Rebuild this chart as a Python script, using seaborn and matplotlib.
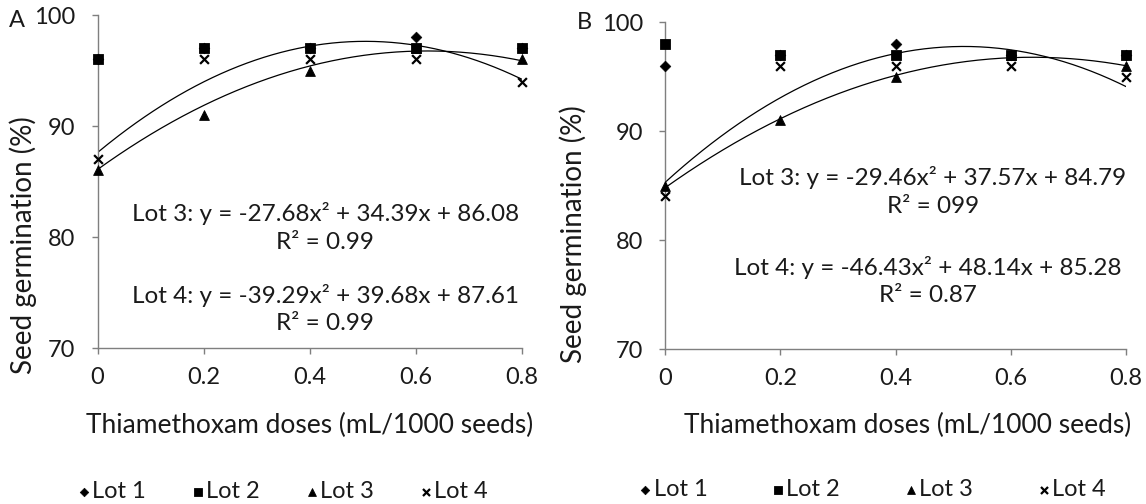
import numpy as np
import pandas as pd
import matplotlib
matplotlib.use("Agg")
import matplotlib.pyplot as plt
import seaborn as sns

# doses and germination values
doses = [0, 0.2, 0.4, 0.6, 0.8]
lots = ["Lot 1", "Lot 2", "Lot 3", "Lot 4"]

a_lot1 = [96, 97, 97, 98, 97]
a_lot2 = [96, 97, 97, 97, 97]
a_lot3 = [86, 91, 95, 97, 96]
a_lot4 = [87, 96, 96, 96, 94]

b_lot1 = [96, 97, 98, 97, 97]
b_lot2 = [98, 97, 97, 97, 97]
b_lot3 = [85, 91, 95, 97, 96]
b_lot4 = [84, 96, 96, 96, 95]

# quadratic fits (a, b, c) as printed on the chart
a_fit3 = [-27.68, 34.39, 86.08]
a_fit4 = [-39.29, 39.68, 87.61]
b_fit3 = [-29.46, 37.57, 84.79]
b_fit4 = [-46.43, 48.14, 85.28]

a_labels = ["Lot 3: y = -27.68x\u00b2 + 34.39x + 86.08", "R\u00b2 = 0.99",
            "Lot 4: y = -39.29x\u00b2 + 39.68x + 87.61", "R\u00b2 = 0.99"]
b_labels = ["Lot 3: y = -29.46x\u00b2 + 37.57x + 84.79", "R\u00b2 = 099",
            "Lot 4: y = -46.43x\u00b2 + 48.14x + 85.28", "R\u00b2 = 0.87"]

sns.set_style("white")
plt.rcParams['font.family'] = ['Lato', 'DejaVu Sans']
TXT = "#1a1a1a"
GREY = "#7f7f7f"

markers = {"Lot 1": "D", "Lot 2": "s", "Lot 3": "^", "Lot 4": "X"}
msize = {"Lot 1": 30, "Lot 2": 55, "Lot 3": 50, "Lot 4": 40}


def long_df(values):
    rows = []
    for lot, vals in zip(lots, values):
        for d, v in zip(doses, vals):
            rows.append({"dose": d, "germ": v, "lot": lot})
    return pd.DataFrame(rows)


def draw(ax, values, fits, labels, text_pos, panel, cfg):
    df = long_df(values)
    for lot in lots:
        sub = df[df["lot"] == lot]
        if lot == "Lot 4":
            ax.scatter(sub["dose"], sub["germ"], marker="x", s=40, color="black",
                       linewidths=1.6, label=lot, zorder=4)
        else:
            sns.scatterplot(data=sub, x="dose", y="germ", marker=markers[lot],
                            s=msize[lot], color="black", edgecolor="black",
                            ax=ax, label=lot, zorder=3)
    xs = np.linspace(0, 0.8, 200)
    for a, b, c in fits:
        curve = pd.DataFrame({"x": xs, "y": a * xs ** 2 + b * xs + c})
        sns.lineplot(data=curve, x="x", y="y", color="black", linewidth=0.9,
                     ax=ax, zorder=2)
    for (tx, ty), t in zip(text_pos, labels):
        ax.text(tx, ty, t, ha="center", va="center", fontsize=17.5, color=TXT)

    ax.set_xlim(0, 0.8)
    ax.set_ylim(70, 100)
    ax.set_xticks([0, 0.2, 0.4, 0.6, 0.8])
    ax.set_xticklabels(["0", "0.2", "0.4", "0.6", "0.8"])
    ax.set_yticks([70, 80, 90, 100])
    ax.tick_params(axis="both", labelsize=17, colors=GREY, labelcolor=TXT,
                   length=4, width=1, direction="out", left=True, bottom=True)
    ax.tick_params(axis="x", pad=10)
    ax.tick_params(axis="y", pad=12)
    for s in ["top", "right"]:
        ax.spines[s].set_visible(False)
    for s in ["left", "bottom"]:
        ax.spines[s].set_color(GREY)
        ax.spines[s].set_linewidth(1)
    ax.set_xlabel("Thiamethoxam doses (mL/1000 seeds)", fontsize=19, color=TXT)
    ax.set_ylabel("Seed germination (%)", fontsize=20, color=TXT)
    ax.yaxis.set_label_coords(cfg["ylab_x"], cfg["ylab_y"])
    ax.xaxis.set_label_coords(cfg["xlab_x"], -0.195)
    for coll in ax.collections:
        coll.set_clip_on(False)
    ax.text(cfg["panel_x"], cfg["panel_y"], panel, transform=ax.transAxes,
            fontsize=17, color=TXT, ha="left", va="center")

    leg = ax.legend(loc="center", bbox_to_anchor=(cfg["leg_x"], -0.43), ncol=4,
                    frameon=False, fontsize=17, handletextpad=0.05,
                    handlelength=0.6, columnspacing=cfg["colsp"],
                    markerscale=0.8, borderaxespad=0)
    for t in leg.get_texts():
        t.set_color(TXT)


fig = plt.figure(figsize=(11.46, 5.04), dpi=100)
ax_a = fig.add_axes([0.0851, 0.3095, 0.3704, 0.6607])
ax_b = fig.add_axes([0.5803, 0.3075, 0.4023, 0.6488])

draw(ax_a, [a_lot1, a_lot2, a_lot3, a_lot4], [a_fit3, a_fit4], a_labels,
     [(0.429, 82.16), (0.429, 79.55), (0.429, 74.77), (0.429, 72.25)], "A",
     {"ylab_x": -0.1425, "ylab_y": 0.31, "xlab_x": 0.50, "panel_x": -0.208,
      "panel_y": 0.985, "leg_x": 0.435, "colsp": 1.9})
draw(ax_b, [b_lot1, b_lot2, b_lot3, b_lot4], [b_fit3, b_fit4], b_labels,
     [(0.465, 85.78), (0.465, 83.12), (0.456, 77.52), (0.456, 74.95)], "B",
     {"ylab_x": -0.169, "ylab_y": 0.352, "xlab_x": 0.527, "panel_x": -0.191,
      "panel_y": 1.0, "leg_x": 0.449, "colsp": 2.7})

fig.savefig("out.png", dpi=100)
